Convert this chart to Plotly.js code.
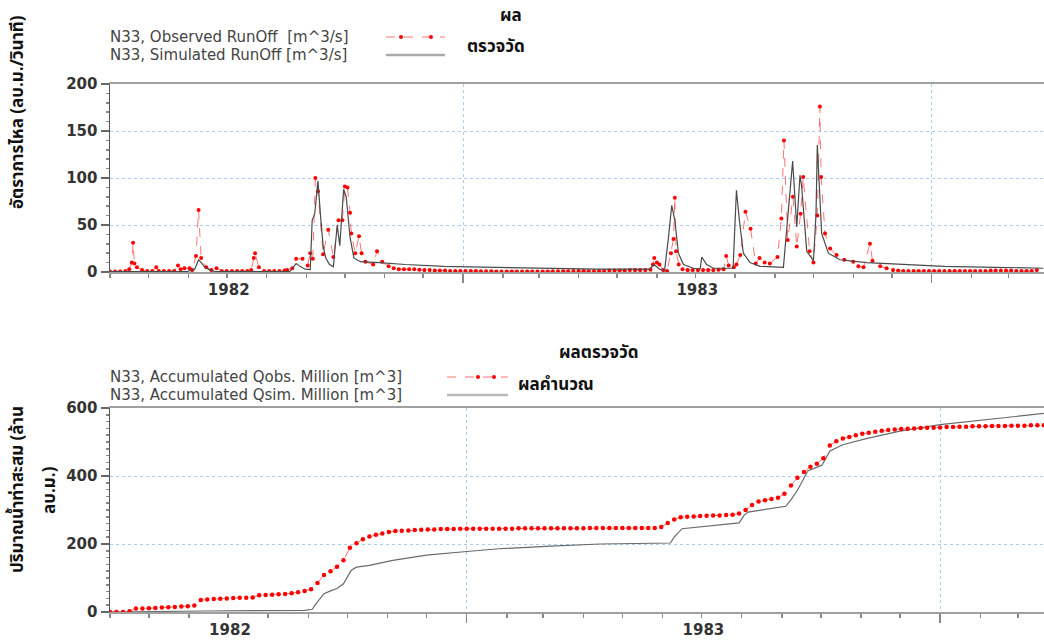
<!DOCTYPE html>
<html>
<head>
<meta charset="utf-8">
<script src="https://cdn.plot.ly/plotly-3.0.1.min.js"></script>
<style>
  html, body { margin: 0; padding: 0; background: #ffffff; }
  #chart { width: 1044px; height: 641px; }
</style>
</head>
<body>
<div id="chart"></div>
<script>
// ---------------- DATA (day offsets from start date) ----------------
const START_DATE = '1982-04-01';

// Top chart: observed runoff [m^3/s]
const obsRunDay = [0,4,8,12,15,17,18,19,21,25,29,33,36,38,42,46,50,53,55,58,62,64,67,69,71,75,79,83,87,91,95,99,103,107,110,112,113,116,120,124,128,132,136,138,142,145,150,154,156,158,160,162,166,170,174,178,181,183,185,187,188,191,194,196,199,205,208,212,217,221,225,229,233,237,241,245,249,253,257,261,265,269,273,277,281,285,289,293,297,301,305,309,313,317,321,325,329,333,337,341,345,349,353,357,361,365,369,373,377,381,385,389,393,397,401,405,409,413,417,421,423,424,426,428,431,434,437,439,440,441,443,446,450,454,458,462,466,470,474,478,480,482,486,488,491,495,499,503,506,510,514,520,523,525,528,532,535,538,540,545,548,551,553,554,557,561,566,572,579,583,587,592,594,600,605,610,614,618,622,626,630,634,638,642,646,650,654,658,662,666,670,674,678,682,686,690,694,698,702,706,710,714,718,722,726];
const obsRunQ = [0.5,0.5,0.5,1,3,10,31,9,5,2,1,1,5,1,1,1,1,7,3,4,4,2,17,66,15,5,2,4,1,1,1,1,1,1,2,15,20,5,1,1,1,1,1.5,2,4,14,14,7,20,14,100,86,19,45,16,55,55,91,90,63,41,20,38,20,11,8,22,11,6,4,3,3,3,3,2.5,2,2,1.5,1.5,1.5,1,1,1,1,1,1,0.8,0.8,0.8,0.5,0.5,0.5,0.5,0.5,0.5,0.5,0.5,0.5,0.5,0.5,0.8,0.8,0.8,0.8,1,1,1,0.8,0.8,1,1,1.5,1.5,1.5,1.5,2,2,2,2,2.5,8,15,10,8,2,1,20,35,79,22,8,3,2,2,2,2,2,2,2.5,3,17,7,5,8,18,64,46,9,15,10,9,16,57,140,34,80,27,62,101,22,10,60,176,101,41,25,18,13,11,6,5,30,12,6,4,2,1.5,1,1,1,1,1,1,1,1,1,1,1,1,1,1,1,1,1,1.5,1.5,1.5,1.5,1.5,1,1,1,1,2];

// Top chart: simulated runoff [m^3/s]
const simRunDay = [0,30,60,66,69,71,74,78,82,140,143,145,148,152,156,157.5,159.5,162,164,166,168,171,174,177,179,182,184,187,190,195,210,230,260,300,340,380,420,424,428,432,435,437.6,440,442.8,446.7,454.5,459.7,461,464.8,470,485.4,488,490.3,493.4,498.6,506.4,524.6,527,531.8,535,537.5,538.8,542.8,548,550,551,554.4,559.6,568.7,589.5,615.5,650,690,727];
const simRunQ = [0.3,0.5,0.5,3,13,10,5,2,0.5,0.5,5,9,6,3,2.5,55,62,97,60,28,15,8,5.5,50,28,88,80,37,15,11,10,8,6,5,4,3,3,8,3,1.5,36,71,55,20,8,4,3,16,8,4,4,87,55,20,10,6,5,45,118,48,103,91,22,12,62,135,41,20,13,10,8,6,5,4];

// Bottom chart: accumulated observed volume [million m^3]
const accObsDay = [0,5,10,15,20,25,30,35,40,45,50,55,60,65,70,75,80,85,90,95,100,105,110,115,120,125,130,135,140,145,150,155,160,165,170,175,180,185,190,195,200,205,210,215,220,225,230,235,240,245,250,255,260,265,270,275,280,285,290,295,300,305,310,315,320,325,330,335,340,345,350,355,360,365,370,375,380,385,390,395,400,405,410,415,420,425,430,435,440,445,450,455,460,465,470,475,480,485,490,495,500,505,510,515,520,525,530,535,540,545,550,555,560,565,570,575,580,585,590,595,600,605,610,615,620,625,630,635,640,645,650,655,660,665,670,675,680,685,690,695,700,705,710,715,720];
const accObsV = [0,0,0,2,10,10,11,12,13,14,15,16,17,19,35,37,38,39,40,41,42,42,43,49,50,51,52,53,55,58,62,67,85,109,120,133,152,189,202,214,222,227,231,235,238,239,240,241,242,243,243,244,244,244,245,245,245,245,245,245,245,245,245,246,246,246,246,246,246,246,246,246,246,246,247,247,247,247,247,247,247,247,247,247,247,250,262,272,279,280,281,282,283,284,284,285,286,290,300,315,325,329,332,336,348,372,395,412,427,436,452,490,502,510,515,520,524,527,530,533,535,537,538,539,540,541,542,542,543,544,544,545,545,546,546,546,547,547,547,548,548,548,549,549,549];

// Bottom chart: accumulated simulated volume [million m^3]
const accSimDay = [0,60,68,72,150,156,158,161,165,170,175,180,183,186,190,200,218,244,275,300,340,378,432,435,441,485,489,492,521,525,530,538,547,549,555,565,583,609,640,702,720];
const accSimV = [0,1,2,3,5,8,20,35,54,62,69,83,103,123,132,137,152,167,178,186,194,200,203,220,245,262,285,294,311,330,358,415,429,432,474,492,510,532,551,577,584];

// Labels
const legendTop = ['N33, Observed RunOff\u00a0\u00a0[m^3/s]', 'N33, Simulated RunOff [m^3/s]'];
const legendBottom = ['N33, Accumulated Qobs. Million [m^3]', 'N33, Accumulated Qsim. Million [m^3]'];
const yTitleTop = 'อัตราการไหล (ลบ.ม./วินาที)';
const yTitleBottom = ['ปริมาณน้ำท่าสะสม (ล้าน', 'ลบ.ม.)'];
const noteTop = ['ผล', 'ตรวจวัด'];
const noteBottom = ['ผลตรวจวัด', 'ผลคำนวณ'];

// ---------------- helpers ----------------
const DAY_MS = 86400000;
const base = Date.parse(START_DATE + 'T00:00:00Z');
const toDate = d => new Date(base + d * DAY_MS).toISOString().slice(0, 19).replace('T', ' ');
const W = 1044, H = 641;
const px = x => x / W;
const py = y => 1 - y / H;

const RED = '#ff0000';
const RED_LINE = 'rgba(255,70,70,0.75)';
const GRID = '#a8cdf0';
const FONT = 'DejaVu Sans, Verdana, sans-serif';
const THAI = 'Noto Sans Thai, Noto Sans Thai UI, Loma, Garuda, Noto Sans, DejaVu Sans, sans-serif';

const traces = [
  { x: obsRunDay.map(toDate), y: obsRunQ, xaxis: 'x', yaxis: 'y', mode: 'lines+markers',
    line: { color: RED_LINE, width: 1, dash: 'dash' }, marker: { color: RED, size: 4 },
    name: legendTop[0], showlegend: false },
  { x: simRunDay.map(toDate), y: simRunQ, xaxis: 'x', yaxis: 'y', mode: 'lines',
    line: { color: '#4a4a4a', width: 1.2 }, name: legendTop[1], showlegend: false },
  { x: accSimDay.map(toDate), y: accSimV, xaxis: 'x2', yaxis: 'y2', mode: 'lines',
    line: { color: '#6a6a6a', width: 1.2 }, name: legendBottom[1], showlegend: false },
  { x: accObsDay.map(toDate), y: accObsV, xaxis: 'x2', yaxis: 'y2', mode: 'lines+markers',
    line: { color: RED_LINE, width: 1, dash: 'dash' }, marker: { color: RED, size: 4.5 },
    name: legendBottom[0], showlegend: false }
];

function xAxis(endDay, anchor) {
  return {
    type: 'date', anchor: anchor, domain: [px(110), 1],
    range: [toDate(0), toDate(endDay)],
    tick0: '1982-01-01', dtick: 'M12', ticklabelmode: 'period', tickformat: '%Y',
    ticks: 'outside', ticklen: 9, tickcolor: '#888', tickwidth: 1.5,
    ticklabelstandoff: -6,
    tickfont: { family: FONT, size: 15, color: '#333', weight: 'bold' },
    showgrid: true, gridcolor: GRID, griddash: 'dot', gridwidth: 1,
    showline: true, linecolor: '#a0a0a0', linewidth: 2, mirror: true,
    minor: { dtick: 'M1', tick0: '1982-01-01', ticks: 'outside', ticklen: 4, tickcolor: '#888', showgrid: false },
    fixedrange: true
  };
}
function yAxis(range, dtick, mdtick, domain, anchor) {
  return {
    anchor: anchor, domain: domain, range: range, dtick: dtick,
    ticks: 'outside', ticklen: 8, tickcolor: '#666', tickwidth: 1.5,
    tickfont: { family: FONT, size: 15, color: '#333', weight: 'bold' },
    showgrid: true, gridcolor: GRID, griddash: 'dot', gridwidth: 1,
    zeroline: false, showline: true, linecolor: '#555', linewidth: 1.5,
    minor: { dtick: mdtick, ticks: 'outside', ticklen: 3, tickcolor: '#888', showgrid: false },
    fixedrange: true
  };
}

const ann = [];
function txt(text, x, y, opts) {
  ann.push(Object.assign({ text: text, xref: 'paper', yref: 'paper', x: px(x), y: py(y),
    showarrow: false, xanchor: 'left', yanchor: 'middle',
    font: { family: FONT, size: 15, color: '#444' } }, opts || {}));
}
txt(legendTop[0], 108, 37);
txt(legendTop[1], 108, 55);
txt(legendBottom[0], 108, 377);
txt(legendBottom[1], 108, 395);
const thaiFont = { family: THAI, size: 17, color: '#111', weight: 'bold' };
txt(noteTop[0], 511, 16, { xanchor: 'center', font: thaiFont });
txt(noteTop[1], 496, 47, { xanchor: 'center', font: thaiFont });
txt(noteBottom[0], 598, 353, { xanchor: 'center', font: thaiFont });
txt(noteBottom[1], 556, 385, { xanchor: 'center', font: thaiFont });
txt(yTitleTop, 18, 112, { xanchor: 'center', textangle: -90, font: thaiFont });
txt(yTitleBottom[0], 18, 490, { xanchor: 'center', textangle: -90, font: thaiFont });
txt(yTitleBottom[1], 50, 490, { xanchor: 'center', textangle: -90, font: thaiFont });

const shapes = [];
function legLine(x0, x1, y, color, width, dash) {
  shapes.push({ type: 'line', xref: 'paper', yref: 'paper', x0: px(x0), x1: px(x1), y0: py(y), y1: py(y),
    line: { color: color, width: width, dash: dash } });
}
function legDot(x, y) {
  shapes.push({ type: 'circle', xref: 'paper', yref: 'paper', xsizemode: 'pixel', ysizemode: 'pixel',
    xanchor: px(x), yanchor: py(y), x0: -2, x1: 2, y0: -2, y1: 2,
    line: { width: 0 }, fillcolor: RED });
}
legLine(386, 445, 37, RED_LINE, 1, 'dash'); legDot(401, 37); legDot(431, 37);
legLine(386, 445, 55, '#aaaaaa', 2.5, 'solid');
legLine(447, 508, 377, RED_LINE, 1, 'dash'); legDot(478, 377); legDot(494, 377);
legLine(447, 508, 395, '#bbbbbb', 2.5, 'solid');

const layout = {
  width: W, height: H,
  margin: { l: 0, r: 0, t: 0, b: 0 },
  paper_bgcolor: '#ffffff', plot_bgcolor: '#ffffff',
  showlegend: false,
  xaxis: xAxis(727.6, 'y'),
  yaxis: yAxis([0, 200], 50, 10, [py(272), py(84)], 'x'),
  xaxis2: xAxis(720.1, 'y2'),
  yaxis2: yAxis([0, 600], 200, 20, [py(612), py(408)], 'x2'),
  annotations: ann,
  shapes: shapes
};

Plotly.newPlot('chart', traces, layout, { displayModeBar: false, staticPlot: true });
</script>
</body>
</html>
